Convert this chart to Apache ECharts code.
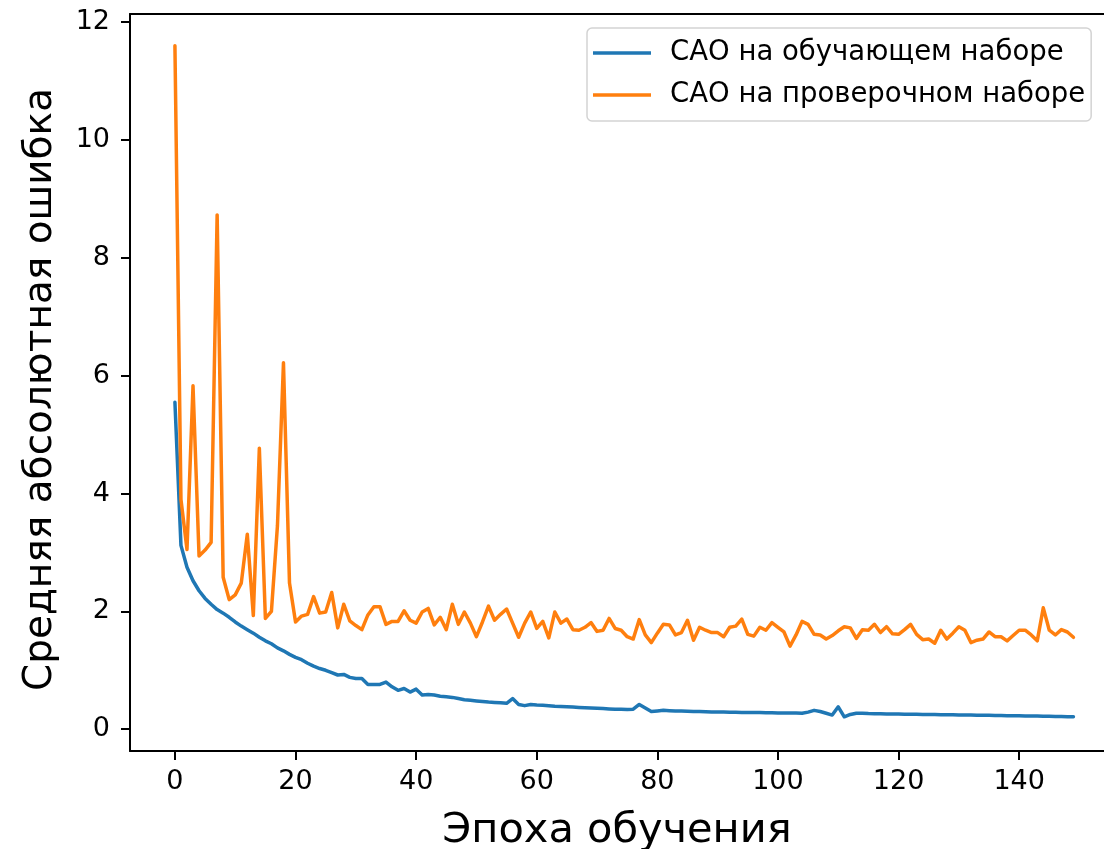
<!DOCTYPE html>
<html>
<head>
<meta charset="utf-8">
<script src="https://cdn.jsdelivr.net/npm/echarts@6/dist/echarts.min.js"></script>
<style>
html,body{margin:0;padding:0;background:#fff;}
#chart{width:1104px;height:849px;}
</style>
</head>
<body>
<div id="chart"></div>
<script>
const trainLabel = 'САО на обучающем наборе';
const valLabel = 'САО на проверочном наборе';
const xTicks = [0, 20, 40, 60, 80, 100, 120, 140];
const yTicks = [0, 2, 4, 6, 8, 10, 12];

const trainMAE = [
5.55,3.12,2.75,2.52,2.35,2.22,2.12,2.03,1.97,1.90,
1.82,1.75,1.69,1.63,1.56,1.50,1.45,1.38,1.33,1.27,
1.22,1.18,1.12,1.07,1.03,1.00,0.96,0.92,0.93,0.88,
0.86,0.86,0.76,0.76,0.76,0.80,0.72,0.66,0.69,0.63,
0.68,0.58,0.59,0.58,0.56,0.55,0.54,0.52,0.50,0.49,
0.48,0.47,0.46,0.455,0.45,0.44,0.52,0.42,0.40,0.42,
0.41,0.405,0.40,0.39,0.385,0.38,0.375,0.37,0.365,0.36,
0.355,0.35,0.345,0.34,0.34,0.335,0.34,0.42,0.36,0.30,
0.31,0.32,0.315,0.31,0.31,0.305,0.30,0.30,0.295,0.29,
0.29,0.29,0.288,0.286,0.285,0.284,0.283,0.282,0.280,0.278,
0.277,0.276,0.275,0.273,0.27,0.29,0.32,0.30,0.27,0.24,
0.38,0.21,0.25,0.27,0.27,0.265,0.263,0.262,0.26,0.258,
0.256,0.255,0.253,0.252,0.25,0.249,0.248,0.246,0.245,0.244,
0.242,0.241,0.24,0.238,0.237,0.235,0.234,0.232,0.23,0.229,
0.227,0.225,0.224,0.222,0.22,0.218,0.216,0.214,0.212,0.21
];

const valMAE = [
11.6,3.9,3.05,5.83,2.94,3.04,3.17,8.73,2.58,2.2,
2.28,2.48,3.31,1.93,4.77,1.88,2.0,3.45,6.22,2.48,
1.82,1.92,1.95,2.25,1.97,1.99,2.32,1.72,2.12,1.84,
1.76,1.69,1.94,2.08,2.08,1.78,1.83,1.83,2.01,1.85,
1.80,1.99,2.05,1.77,1.90,1.69,2.12,1.78,1.99,1.80,
1.57,1.82,2.09,1.85,1.95,2.04,1.80,1.56,1.80,1.99,
1.71,1.83,1.55,1.99,1.80,1.87,1.69,1.68,1.73,1.81,
1.66,1.68,1.88,1.71,1.68,1.57,1.53,1.86,1.60,1.47,
1.63,1.78,1.77,1.60,1.64,1.85,1.51,1.73,1.68,1.64,
1.64,1.57,1.73,1.75,1.87,1.61,1.58,1.73,1.68,1.81,
1.73,1.65,1.41,1.60,1.83,1.78,1.61,1.60,1.53,1.59,
1.67,1.74,1.72,1.54,1.69,1.68,1.78,1.64,1.74,1.62,
1.61,1.69,1.78,1.61,1.52,1.53,1.46,1.68,1.53,1.63,
1.74,1.68,1.47,1.51,1.53,1.65,1.57,1.57,1.50,1.59,
1.68,1.68,1.60,1.50,2.06,1.68,1.60,1.69,1.65,1.56
];

const FONT = 'DejaVu Sans';
const X_MIN = -7.45, X_MAX = 154.07;
const chart = echarts.init(document.getElementById('chart'), null, {renderer: 'canvas'});
chart.setOption({
  animation: false,
  backgroundColor: '#fff',
  grid: {
    left: 130, top: 14, right: 0, bottom: 98,
    show: false, outerBoundsMode: 'none', containLabel: false
  },
  legend: {
    orient: 'vertical',
    left: 587, top: 28,
    data: [trainLabel, valLabel],
    icon: 'rect',
    itemWidth: 58, itemHeight: 3.5,
    itemGap: 14,
    padding: [11, 6, 12, 6],
    selectedMode: false,
    backgroundColor: 'rgba(255,255,255,0.8)',
    borderColor: '#d3d3d3', borderWidth: 1.5, borderRadius: 5,
    textStyle: {fontFamily: FONT, fontSize: 27.5, color: '#000', padding: [0, 0, 0, 14]}
  },
  xAxis: [{
    type: 'value', min: X_MIN, max: X_MAX, position: 'bottom',
    name: 'Эпоха обучения', nameLocation: 'middle', nameGap: 59,
    nameTextStyle: {fontFamily: FONT, fontSize: 41.5, color: '#000'},
    axisLine: {show: true, onZero: false, lineStyle: {color: '#000', width: 2}},
    axisTick: {show: true, length: 9, lineStyle: {color: '#000', width: 2}, customValues: xTicks},
    axisLabel: {fontFamily: FONT, fontSize: 27, color: '#000', margin: 17, customValues: xTicks},
    splitLine: {show: false}
  }, {
    type: 'value', min: X_MIN, max: X_MAX, position: 'top',
    axisLine: {show: true, onZero: false, lineStyle: {color: '#000', width: 2}},
    axisTick: {show: false}, axisLabel: {show: false}, splitLine: {show: false}
  }],
  yAxis: {
    type: 'value', min: -0.37, max: 12.14,
    name: 'Средняя абсолютная ошибка', nameLocation: 'middle', nameGap: 70,
    nameTextStyle: {fontFamily: FONT, fontSize: 39, color: '#000', padding: [0, 14, 0, 0]},
    axisLine: {show: true, onZero: false, lineStyle: {color: '#000', width: 2}},
    axisTick: {show: true, length: 9, lineStyle: {color: '#000', width: 2}, customValues: yTicks},
    axisLabel: {fontFamily: FONT, fontSize: 27, color: '#000', margin: 20, customValues: yTicks},
    splitLine: {show: false}
  },
  series: [
    {
      name: trainLabel, type: 'line', symbol: 'none', showSymbol: false, xAxisIndex: 0,
      data: trainMAE.map((v, i) => [i, v]),
      itemStyle: {color: '#1f77b4'},
      lineStyle: {color: '#1f77b4', width: 3.5, join: 'round', cap: 'round'}
    },
    {
      name: valLabel, type: 'line', symbol: 'none', showSymbol: false, xAxisIndex: 0,
      data: valMAE.map((v, i) => [i, v]),
      itemStyle: {color: '#ff7f0e'},
      lineStyle: {color: '#ff7f0e', width: 3.5, join: 'round', cap: 'round'}
    }
  ]
});
</script>
</body>
</html>
